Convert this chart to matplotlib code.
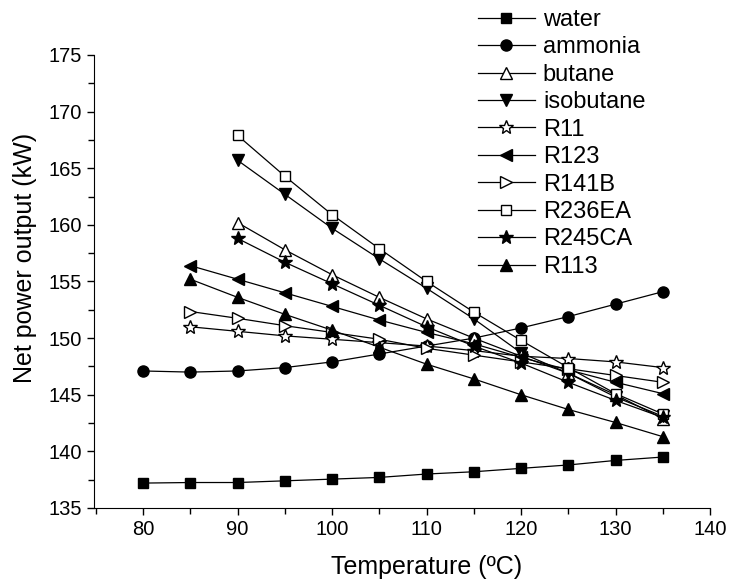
import matplotlib
matplotlib.use("Agg")
import matplotlib.pyplot as plt
from matplotlib.ticker import MultipleLocator

plt.rcParams['font.family'] = ['Liberation Sans', 'DejaVu Sans']

# temperatures (ºC)
t_all = [80, 85, 90, 95, 100, 105, 110, 115, 120, 125, 130, 135]
t_85 = t_all[1:]
t_90 = t_all[2:]

# net power output (kW)
water = [137.2, 137.25, 137.25, 137.4, 137.55, 137.7, 138.0, 138.2, 138.5, 138.8, 139.2, 139.5]
ammonia = [147.1, 147.0, 147.1, 147.4, 147.9, 148.6, 149.3, 150.0, 150.9, 151.9, 153.0, 154.1]
butane = [160.2, 157.8, 155.6, 153.6, 151.7, 150.0, 148.4, 146.9, 145.0, 142.9]
isobutane = [165.7, 162.7, 159.7, 157.0, 154.4, 151.7, 148.7, 146.9, 144.8, 143.1]
r11 = [151.0, 150.6, 150.2, 149.9, 149.6, 149.3, 148.9, 148.4, 148.2, 147.9, 147.4]
r123 = [156.4, 155.2, 154.0, 152.8, 151.6, 150.5, 149.5, 148.3, 147.2, 146.1, 145.1]
r141b = [152.35, 151.75, 151.1, 150.5, 149.9, 149.1, 148.5, 147.9, 147.3, 146.7, 146.1]
r236ea = [167.9, 164.3, 160.9, 157.9, 155.0, 152.3, 149.8, 147.4, 145.1, 143.3]
r245ca = [158.8, 156.7, 154.8, 152.9, 151.0, 149.3, 147.8, 146.1, 144.5, 143.0]
r113 = [155.2, 153.6, 152.1, 150.7, 149.2, 147.7, 146.4, 145.0, 143.7, 142.55, 141.3]

series = [
    ('water', t_all, water, 's', 'k', 7),
    ('ammonia', t_all, ammonia, 'o', 'k', 8),
    ('butane', t_90, butane, '^', 'w', 8),
    ('isobutane', t_90, isobutane, 'v', 'k', 8),
    ('R11', t_85, r11, '*', 'w', 10),
    ('R123', t_85, r123, '<', 'k', 8),
    ('R141B', t_85, r141b, '>', 'w', 8),
    ('R236EA', t_90, r236ea, 's', 'w', 7),
    ('R245CA', t_90, r245ca, '*', 'k', 10),
    ('R113', t_85, r113, '^', 'k', 8),
]

fig = plt.figure(figsize=(7.30, 5.81), dpi=100)
ax = fig.add_axes([94 / 730, 1 - 508 / 581, (710 - 94) / 730, (508 - 55) / 581])

for name, t, y, m, fc, ms in series:
    ax.plot(t, y, color='k', lw=0.9, marker=m, markersize=ms,
            markerfacecolor=fc, markeredgecolor='k', markeredgewidth=1.0,
            label=name)

ax.set_xlim(74.8, 140)
ax.set_ylim(135, 175)
ax.xaxis.set_major_locator(MultipleLocator(10))
ax.xaxis.set_minor_locator(MultipleLocator(5))
ax.yaxis.set_major_locator(MultipleLocator(5))
ax.yaxis.set_minor_locator(MultipleLocator(2.5))
ax.spines['top'].set_visible(False)
ax.spines['right'].set_visible(False)
ax.tick_params(which='major', direction='out', length=5, width=1, labelsize=14.5)
ax.tick_params(which='minor', direction='out', length=4, width=1)

ax.set_xlabel('Temperature (ºC)', fontsize=18)
ax.set_ylabel('Net power output (kW)', fontsize=18)
ax.xaxis.set_label_coords(0.54, -0.103)
ax.yaxis.set_label_coords(-0.092, 0.552)

ax.legend(loc='upper left', bbox_to_anchor=(478 / 730, 1 - 9 / 581),
          bbox_transform=fig.transFigure, frameon=False, fontsize=17,
          handlelength=2.4, handletextpad=0.35, labelspacing=0.23,
          borderpad=0, borderaxespad=0)

fig.savefig('out.png', dpi=100)
